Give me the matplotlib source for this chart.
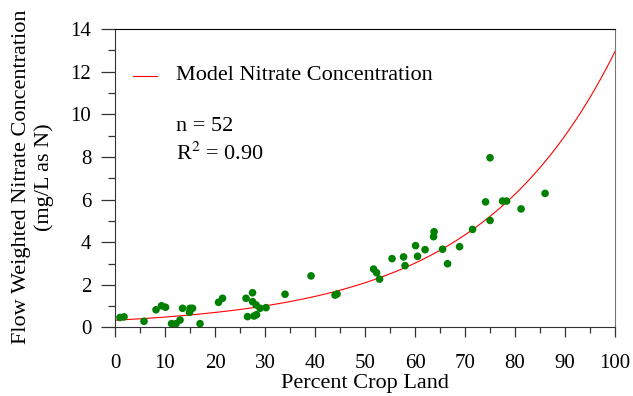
import numpy as np
import matplotlib
matplotlib.use("Agg")
import matplotlib.pyplot as plt
from matplotlib.ticker import MultipleLocator

plt.rcParams['font.family'] = ['Liberation Serif', 'DejaVu Serif']
plt.rcParams['mathtext.fontset'] = 'stix'

crop_pct = [1.0, 1.8, 5.8, 8.2, 9.3, 10.1, 11.3, 12.2, 13.0, 13.5, 14.9, 15.0, 15.5, 17.0,
            20.7, 21.5, 26.2, 27.5, 27.5, 28.2, 29.0, 30.2, 26.5, 27.8, 28.3, 34.0, 39.2,
            44.0, 44.4, 51.7, 52.3, 52.9, 55.4, 57.7, 58.0, 60.1, 60.5, 62.0, 63.8, 63.7,
            65.5, 66.5, 68.9, 71.5, 75.0, 75.0, 74.1, 77.5, 78.3, 81.2, 86.0]
nitrate = [0.47, 0.50, 0.29, 0.83, 1.02, 0.95, 0.18, 0.18, 0.35, 0.90, 0.71, 0.90, 0.90, 0.18,
           1.18, 1.37, 1.37, 1.63, 1.21, 1.06, 0.90, 0.93, 0.51, 0.54, 0.60, 1.56, 2.42,
           1.52, 1.57, 2.74, 2.57, 2.27, 3.23, 3.31, 2.90, 3.84, 3.34, 3.65, 4.49, 4.26,
           3.67, 2.99, 3.79, 4.60, 5.02, 7.96, 5.89, 5.93, 5.93, 5.56, 6.29]

model_a = 0.34
model_b = 0.0364

fig = plt.figure(figsize=(6.33, 3.96), dpi=100)
ax = fig.add_axes([0.1817, 0.173, 0.79, 0.7538])

xm = np.linspace(0, 100, 400)
ax.plot(xm, model_a * np.exp(model_b * xm), color='red', lw=0.8, zorder=2)
ax.scatter(crop_pct, nitrate, s=30, color='#008000', edgecolors='none', zorder=3)

ax.set_xlim(0, 100)
ax.set_ylim(0, 14)
ax.xaxis.set_major_locator(MultipleLocator(10))
ax.xaxis.set_minor_locator(MultipleLocator(5))
ax.yaxis.set_major_locator(MultipleLocator(2))
ax.yaxis.set_minor_locator(MultipleLocator(1))
ax.tick_params(axis='x', which='major', direction='out', length=7, width=0.9, labelsize=15, color='#333333', pad=12)
ax.tick_params(axis='x', which='minor', direction='out', length=4, width=0.9, color='#333333')
ax.tick_params(axis='y', which='major', direction='out', length=10, width=0.9, labelsize=15, color='#333333', pad=7)
ax.tick_params(axis='y', which='minor', direction='out', length=5, width=0.9, color='#333333')
for s in ['left', 'bottom']:
    ax.spines[s].set_color('#333333')
ax.spines['right'].set_color('#777777')
ax.spines['top'].set_color('black')

ax.set_xlabel('Percent Crop Land', fontsize=16, labelpad=1)
ax.set_ylabel('Flow Weighted Nitrate Concentration\n(mg/L as N)', fontsize=16, linespacing=1.2)
ax.yaxis.set_label_coords(-0.123, 0.505)

ax.plot([0.036, 0.084], [0.844, 0.844], transform=ax.transAxes, color='red', lw=0.8)
ax.text(0.121, 0.844, 'Model Nitrate Concentration', transform=ax.transAxes, fontsize=16, va='center')
ax.text(0.121, 0.672, 'n = 52', transform=ax.transAxes, fontsize=16, va='center')
ax.text(0.121, 0.581, 'R$^2$ = 0.90', transform=ax.transAxes, fontsize=16, va='center')

fig.savefig('out.png', dpi=100)
